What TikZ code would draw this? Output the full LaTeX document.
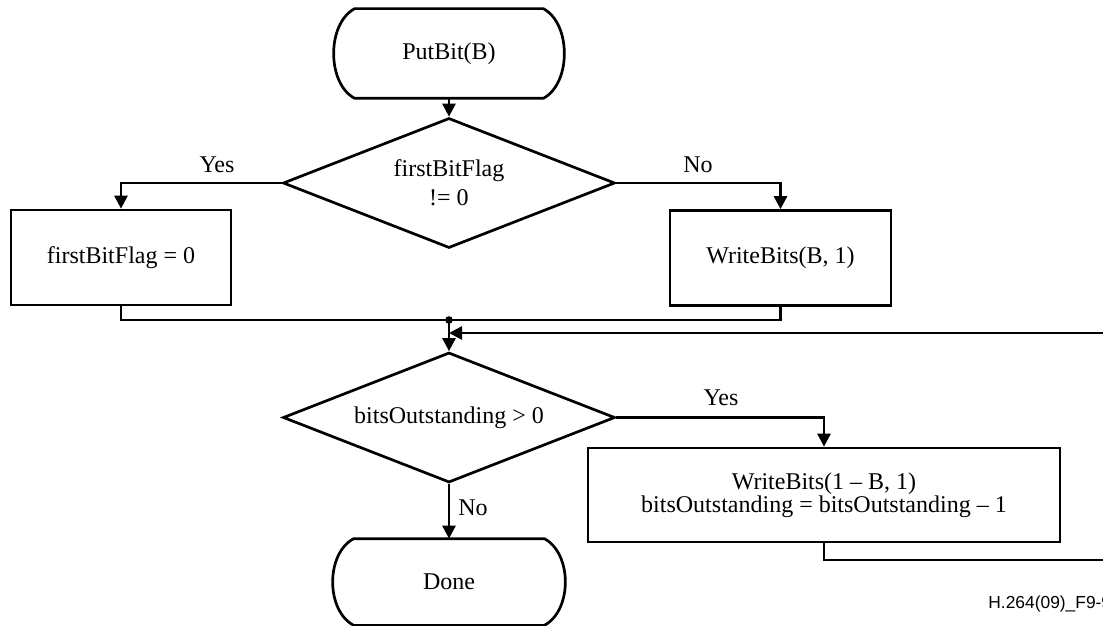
\documentclass[tikz,border=0pt]{standalone}
\usepackage{fontspec}
\setmainfont{Liberation Serif}
\newfontfamily\labelfont{Liberation Sans}
\usetikzlibrary{shapes.geometric,arrows.meta,calc}
\newcommand\termshape[1]{%
 \draw ($(#1.north west)+(10.5pt,0)$) -- ($(#1.north east)+(-10.5pt,0)$)
   .. controls ($(#1.north east)+(3.5pt,-7.5pt)$) and ($(#1.south east)+(3.5pt,7.5pt)$) .. ($(#1.south east)+(-10.5pt,0)$)
   -- ($(#1.south west)+(10.5pt,0)$)
   .. controls ($(#1.south west)+(-3.5pt,7.5pt)$) and ($(#1.north west)+(-3.5pt,-7.5pt)$) .. cycle;}
\begin{document}
\begin{tikzpicture}[x=0.5pt,y=-0.5pt,
  line width=1.35pt,
  txt/.style={font=\fontsize{12}{14}\selectfont},
  proc/.style={txt, draw, rectangle, inner sep=0pt, align=center},
  dec/.style={txt, draw, diamond, aspect=2.55, minimum width=166pt, minimum height=65pt, inner sep=0pt, align=center},
  term/.style={txt, inner sep=0pt},
  arr/.style={-{Triangle[length=6.5pt,width=6.5pt]}},
  lbl/.style={txt, inner sep=0pt}
]
\useasboundingbox (0,0) rectangle (1103,626);

% nodes
\node[term, minimum width=114pt, minimum height=43.5pt] (start) at (449,53.5) {PutBit(B)};
\termshape{start}
\node[dec, font=\fontsize{12}{14.5}\selectfont] (d1) at (449,183) {firstBitFlag\\!= 0};
\node[proc, minimum width=110pt, minimum height=47.5pt] (b1) at (121,257.5) {firstBitFlag = 0};
\node[proc, minimum width=110.5pt, minimum height=47.5pt] (b2) at (780.5,258) {WriteBits(B, 1)};
\node[dec] (d2) at (449,417.5) {bitsOutstanding > 0};
\node[proc, minimum width=236pt, minimum height=47pt, font=\fontsize{12}{11.4}\selectfont] (b3) at (824,495) {WriteBits(1 -- B, 1)\\bitsOutstanding = bitsOutstanding -- 1};
\node[term, minimum width=115pt, minimum height=42pt] (done) at (449,582) {Done};
\termshape{done}

% labels
\node[lbl] (yes1) at (217,165) {Yes};
\node[lbl] (no1) at (698,165) {No};
\node[lbl] (yes2) at (721,398) {Yes};
\node[lbl, anchor=west] (no2) at (457,508) {No};
\node[anchor=west, inner sep=0pt, font=\labelfont\fontsize{8.7}{10}\selectfont] (fig) at (987,604) {H.264(09)\_F9-9};

% coordinates
\coordinate (j) at (449,320);
\coordinate (k) at (449,333);
\coordinate (r1) at (1112,560);
\coordinate (r2) at (1112,333);

% connectors
\draw[arr] (start) -- (d1);
\draw[arr] (d1.west) -| (b1.north);
\draw[arr] (d1.east) -| (b2.north);
\draw (b1.south) |- (j);
\draw (b2.south) |- (j);
\fill (j) circle (1.9pt);
\draw[arr] (j) -- (d2.north);
\draw[arr] (d2.east) -| (b3.north);
\draw[arr] (d2.south) -- (done.north);
\draw (b3.south) |- (r1) -- (r2);
\draw[arr] (r2) -- (k);
\end{tikzpicture}
\end{document}
